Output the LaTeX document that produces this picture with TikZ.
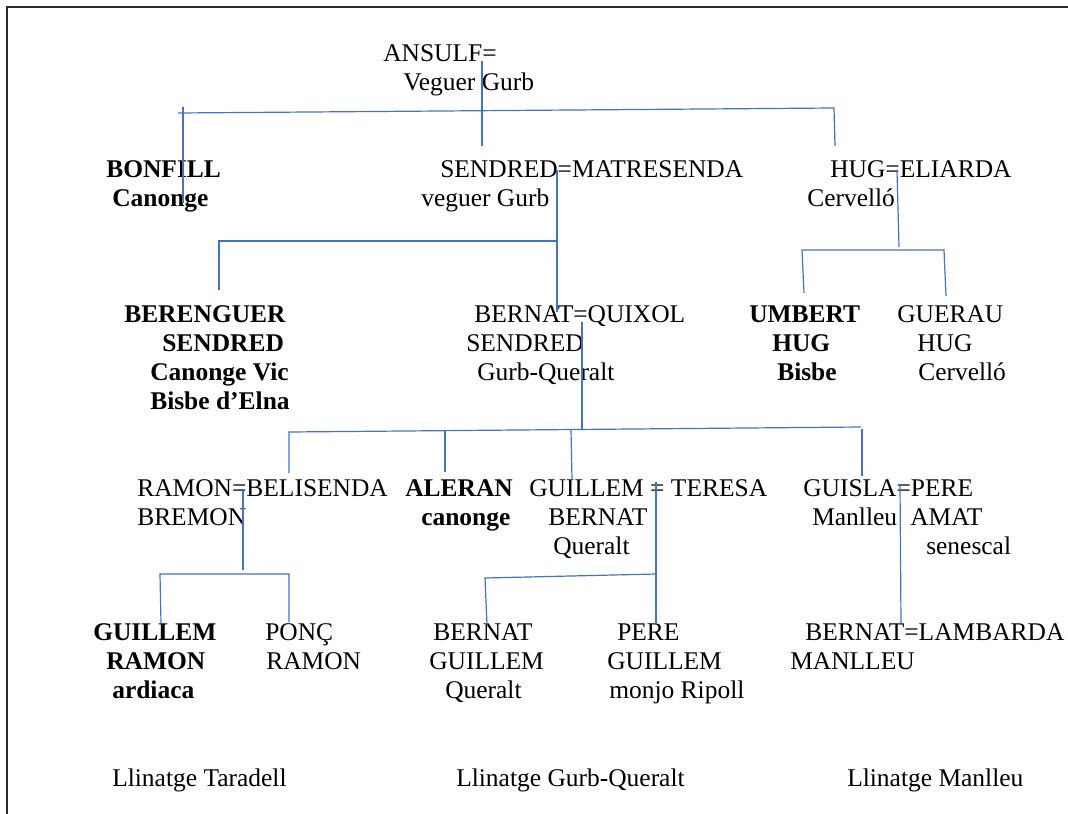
\documentclass[tikz,border=0pt]{standalone}
\usepackage{fontspec}
\setmainfont{Liberation Serif}
\definecolor{linkblue}{HTML}{4472C4}
\definecolor{framegray}{HTML}{2B2B2B}
\begin{document}
\begin{tikzpicture}[x=0.75pt,y=-0.75pt,
  txt/.style={anchor=base west,inner sep=0pt,font=\fontsize{19.1pt}{22pt}\selectfont},
  btxt/.style={txt,font=\fontsize{19.1pt}{22pt}\selectfont\bfseries},
  link/.style={draw=linkblue,line width=0.9pt},
  frame/.style={draw=framegray,line width=1.6pt}]
\useasboundingbox (0,0) rectangle (1068,814);

% page frame (top and left edges)
\coordinate (f1) at (1068,7);
\coordinate (f2) at (7,7);
\coordinate (f3) at (7,814);
\draw[frame] (f1) -- (f2) -- (f3);

% generation 1
\node[txt] (ansulf) at (383,61) {ANSULF=};
\node[txt] (ansulf2) at (403,90) {Veguer Gurb};

% generation 2
\node[btxt] (bonfill) at (106,177) {BONFILL};
\node[btxt] (bonfill2) at (112,206) {Canonge};
\node[txt] (sendred) at (440,177) {SENDRED=MATRESENDA};
\node[txt] (sendred2) at (421,206) {veguer Gurb};
\node[txt] (hug) at (830,177) {HUG=ELIARDA};
\node[txt] (hug2) at (807,206) {Cervelló};

% generation 3
\node[btxt] (bereng) at (124,322) {BERENGUER};
\node[btxt] (bereng2) at (162,351) {SENDRED};
\node[btxt] (bereng3) at (150,380) {Canonge Vic};
\node[btxt] (bereng4) at (150,409) {Bisbe d’Elna};
\node[txt] (bernat) at (474,322) {BERNAT=QUIXOL};
\node[txt] (bernat2) at (466,351) {SENDRED};
\node[txt] (bernat3) at (477,380) {Gurb-Queralt};
\node[btxt] (umbert) at (749,322) {UMBERT};
\node[btxt] (umbert2) at (772,351) {HUG};
\node[btxt] (umbert3) at (777,380) {Bisbe};
\node[txt] (guerau) at (897,322) {GUERAU};
\node[txt] (guerau2) at (917,351) {HUG};
\node[txt] (guerau3) at (918,380) {Cervelló};

% generation 4
\node[txt] (ramon) at (137,496) {RAMON=BELISENDA};
\node[txt] (ramon2) at (137,525) {BREMON};
\node[btxt] (aleran) at (405,496) {ALERAN};
\node[btxt] (aleran2) at (421,525) {canonge};
\node[txt] (guillem) at (529,496) {GUILLEM = TERESA};
\node[txt] (guillem2) at (548,525) {BERNAT};
\node[txt] (guillem3) at (553,554) {Queralt};
\node[txt] (guisla) at (803,496) {GUISLA=PERE};
\node[txt] (guisla2) at (812,525) {Manlleu};
\node[txt] (guisla3) at (910,525) {AMAT};
\node[txt] (guisla4) at (926,554) {senescal};

% generation 5
\node[btxt] (gr) at (93,640) {GUILLEM};
\node[btxt] (gr2) at (106,669) {RAMON};
\node[btxt] (gr3) at (112,698) {ardiaca};
\node[txt] (ponc) at (265,640) {PONÇ};
\node[txt] (ponc2) at (266,669) {RAMON};
\node[txt] (bg) at (433,640) {BERNAT};
\node[txt] (bg2) at (429,669) {GUILLEM};
\node[txt] (bg3) at (445,698) {Queralt};
\node[txt] (pg) at (617,640) {PERE};
\node[txt] (pg2) at (607,669) {GUILLEM};
\node[txt] (pg3) at (609,698) {monjo Ripoll};
\node[txt] (bl) at (805,640) {BERNAT=LAMBARDA};
\node[txt] (bl2) at (790,669) {MANLLEU};

% lineage captions
\node[txt] (cap1) at (112,786) {Llinatge Taradell};
\node[txt] (cap2) at (456,786) {Llinatge Gurb-Queralt};
\node[txt] (cap3) at (847,786) {Llinatge Manlleu};

% --- connector points ---
% Ansulf
\coordinate (a0) at (482,61);
\coordinate (a1) at (482,146);
\coordinate (ab0) at (178,113);
\coordinate (ab1) at (834,108);
\coordinate (ah) at (835,146);
\coordinate (bf0) at (183,107);
\coordinate (bf1) at (183,203);
% Sendred
\coordinate (s0) at (557,170);
\coordinate (s1) at (557,312);
\coordinate (sj) at (557,241);
\coordinate (sb) at (219,241);
\coordinate (sb1) at (219,290);
% Hug
\coordinate (h0) at (897,170);
\coordinate (h1) at (899,247);
\coordinate (hl) at (802,250);
\coordinate (hr) at (944,250);
\coordinate (hl1) at (804,293);
\coordinate (hr1) at (946,296);
% Bernat
\coordinate (b0) at (582,322);
\coordinate (b1) at (582,429);
\coordinate (bl0) at (289,432);
\coordinate (br0) at (861,427);
\coordinate (bra) at (862,429);
\coordinate (br1) at (862,476);
\coordinate (bl1) at (289,473);
\coordinate (ba0) at (445,431);
\coordinate (ba1) at (445,472);
\coordinate (bg0) at (571,430);
\coordinate (bg1) at (572,480);
% Ramon
\coordinate (r0) at (243,489);
\coordinate (r1) at (243,570);
\coordinate (rl) at (160,574);
\coordinate (rr) at (289,574);
\coordinate (rl1) at (161,623);
\coordinate (rr1) at (289,622);
% Guillem
\coordinate (g0) at (656,482);
\coordinate (g1) at (656,623);
\coordinate (gj) at (656,574);
\coordinate (gl) at (485,578);
\coordinate (gl1) at (487,625);
% Guisla
\coordinate (q0) at (900,484);
\coordinate (q1) at (901,623);

% --- connectors ---
\draw[link] (a0) -- (a1);
\draw[link] (ab0) -- (ab1) -- (ah);
\draw[link] (bf0) -- (bf1);

\draw[link] (s0) -- (s1);
\draw[link] (sb1) -- (sb) -- (sj);

\draw[link] (h0) -- (h1);
\draw[link] (hl1) -- (hl) -- (hr) -- (hr1);

\draw[link] (b0) -- (b1);
\draw[link] (bl1) -- (bl0) -- (br0);
\draw[link] (bra) -- (br1);
\draw[link] (ba0) -- (ba1);
\draw[link] (bg0) -- (bg1);

\draw[link] (r0) -- (r1);
\draw[link] (rl1) -- (rl) -- (rr) -- (rr1);

\draw[link] (g0) -- (g1);
\draw[link] (gl1) -- (gl) -- (gj);

\draw[link] (q0) -- (q1);
\end{tikzpicture}
\end{document}
